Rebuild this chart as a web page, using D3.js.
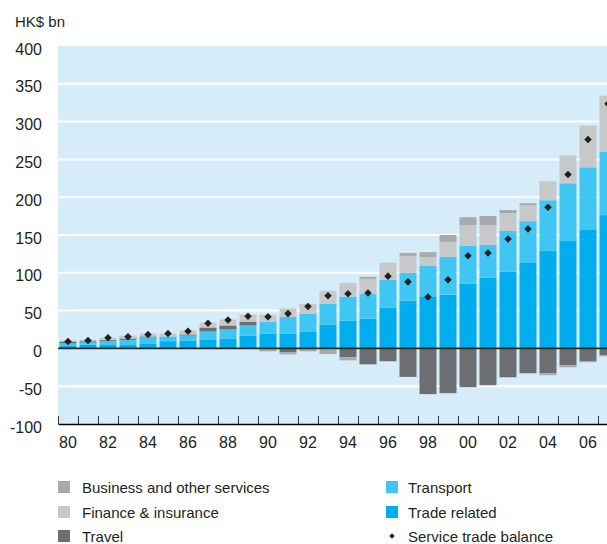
<!DOCTYPE html>
<html>
<head>
  <meta charset="UTF-8">
  <title>Hong Kong service trade</title>
  <style>
    body { margin: 0; background: #fff; }
    svg text { font-family: "Liberation Sans", Arial, sans-serif; fill: #231f20; }
  </style>
</head>
<body>
  <svg width="607" height="544"></svg>

  <script src="https://d3js.org/d3.v7.min.js"></script>
  <script>
    // Values in HK$ bn, one per year 1980-2007
    const years = d3.range(1980, 2008);
    const tradeRelated = [4, 5, 5.3, 5.3, 6.6, 9.6, 10.5, 11.8, 13.2, 17, 19.7, 19.7, 22.4, 31.6, 36.8, 39.5, 54, 63, 68, 71, 85.5, 93.4, 101.3, 113, 129, 142, 156.6, 176.3];
    const transport = [2.6, 3.9, 4.8, 6.1, 7.9, 6.2, 6.5, 10.6, 11.8, 13.3, 15.8, 22.3, 23.6, 27.6, 31.6, 32.9, 37, 37, 41, 50, 50, 43.4, 54, 55.3, 67, 76.4, 82.9, 84.2];
    const travel = [2.6, 1, 1.3, 1.8, 1.3, 0, 1.4, 5.2, 5.3, 5.2, 0, -5.3, 0, -1, -11.8, -21, -17, -37.7, -60.5, -59.2, -51.3, -48.7, -38.2, -32.9, -32.9, -22.4, -17.1, -9.2];
    const finance = [1.3, 1.6, 2.6, 3.8, 3.9, 3.9, 5.3, 6.6, 7.9, 9.2, 9.2, 10.6, 13, 17, 18.4, 19.6, 22.4, 22.4, 11.8, 19.8, 27.6, 26.3, 23.7, 21, 25, 36.8, 55.2, 73.7];
    const business = [0, 0, 0, 0, 0, 0, 0, 0, 0, 0, -3.9, -2.6, -3.9, -6.5, -4, 2.7, 0, 3.9, 6.5, 9.2, 10.5, 12, 4, 2.6, -2.6, -2.6, -1.3, -1.3];
    const balance = [9.2, 10.5, 14, 15.3, 18.4, 19.7, 22.8, 33.3, 37.7, 42.5, 42, 46, 55.3, 69.7, 72.4, 73.3, 95.6, 88, 68, 90.8, 122.4, 126.3, 144.7, 157.9, 186.8, 230, 276.3, 323.7];

    const yTicks = [-100, -50, 0, 50, 100, 150, 200, 250, 300, 350, 400];
    const labelYears = d3.range(1980, 2008, 2);

    const seriesKeys = ['trade', 'transport', 'travel', 'finance', 'business'];
    const colors = {
      trade: '#00aeef',
      transport: '#40c6f3',
      travel: '#6d6e71',
      finance: '#c7c8ca',
      business: '#a7a9ac'
    };

    const rows = years.map((yr, i) => ({
      year: yr,
      trade: tradeRelated[i],
      transport: transport[i],
      travel: travel[i],
      finance: finance[i],
      business: business[i],
      balance: balance[i]
    }));

    const W = 607;
    const plotLeft = 58, plotRight = 618, plotTop = 46, plotBottom = 424;

    const svg = d3.select('svg');

    const x = d3.scaleBand()
      .domain(years)
      .range([plotLeft, plotRight])
      .paddingInner(0.15)
      .paddingOuter(0.075);

    const xLin = d3.scaleLinear().domain([1980, 2008]).range([plotLeft, plotRight]);

    const y = d3.scaleLinear().domain([-100, 400]).range([plotBottom, plotTop]);

    // plot background
    svg.append('rect')
      .attr('x', plotLeft)
      .attr('y', y(400))
      .attr('width', W - plotLeft)
      .attr('height', y(-100) - y(400))
      .attr('fill', '#d6edf9');

    // white gridlines
    svg.append('g')
      .selectAll('line')
      .data(yTicks.filter(v => v !== 0 && v !== -100 && v !== 400))
      .join('line')
      .attr('x1', plotLeft)
      .attr('x2', W)
      .attr('y1', d => y(d))
      .attr('y2', d => y(d))
      .attr('stroke', '#fff')
      .attr('stroke-width', 2);

    // stacked bars
    const stack = d3.stack()
      .keys(seriesKeys)
      .offset(d3.stackOffsetDiverging);

    svg.append('g')
      .selectAll('g')
      .data(stack(rows))
      .join('g')
      .attr('fill', d => colors[d.key])
      .selectAll('rect')
      .data(d => d)
      .join('rect')
      .attr('x', d => x(d.data.year))
      .attr('width', x.bandwidth())
      .attr('y', d => y(Math.max(d[0], d[1])))
      .attr('height', d => Math.abs(y(d[0]) - y(d[1])));

    // zero line
    svg.append('line')
      .attr('x1', plotLeft)
      .attr('x2', W)
      .attr('y1', y(0))
      .attr('y2', y(0))
      .attr('stroke', '#2a2a2a')
      .attr('stroke-width', 1.6);

    // balance markers
    const diamond = d3.symbol().type(d3.symbolDiamond2).size(36);
    svg.append('g')
      .selectAll('path')
      .data(rows)
      .join('path')
      .attr('d', diamond)
      .attr('fill', '#231f20')
      .attr('transform', d => `translate(${x(d.year) + x.bandwidth() / 2}, ${y(d.balance)})`);

    // bottom axis: year ticks pointing up
    const xAxis = svg.append('g')
      .attr('transform', `translate(0, ${plotBottom})`)
      .call(d3.axisBottom(xLin)
        .tickValues(d3.range(1980, 2009))
        .tickSize(-8)
        .tickSizeOuter(0)
        .tickFormat(''));
    xAxis.select('.domain').attr('stroke', '#000').attr('stroke-width', 1.6);
    xAxis.selectAll('.tick line').attr('stroke', '#333');

    // year labels, every second year
    const xLabelAxis = svg.append('g')
      .attr('transform', `translate(0, ${plotBottom})`)
      .call(d3.axisBottom(x)
        .tickValues(labelYears)
        .tickSize(0)
        .tickPadding(13)
        .tickFormat(d => String(d).slice(2)));
    xLabelAxis.select('.domain').remove();
    xLabelAxis.selectAll('text')
      .attr('font-size', 16)
      .attr('font-family', null);

    // y labels (plain hyphen for negatives, as in the original)
    const yAxis = svg.append('g')
      .attr('transform', 'translate(42, 0)')
      .call(d3.axisLeft(y)
        .tickValues(yTicks)
        .tickSize(0)
        .tickPadding(0)
        .tickFormat(d => String(d)));
    yAxis.select('.domain').remove();
    yAxis.selectAll('text')
      .attr('font-size', 16)
      .attr('font-family', null)
      .attr('dy', '0.5em');

    // unit label
    svg.append('text')
      .attr('x', 15)
      .attr('y', 27)
      .attr('font-size', 15)
      .text('HK$ bn');

    // legend
    const legendItems = [
      { label: 'Business and other services', color: colors.business, col: 0, row: 0 },
      { label: 'Finance & insurance', color: colors.finance, col: 0, row: 1 },
      { label: 'Travel', color: colors.travel, col: 0, row: 2 },
      { label: 'Transport', color: colors.transport, col: 1, row: 0 },
      { label: 'Trade related', color: colors.trade, col: 1, row: 1 },
      { label: 'Service trade balance', color: null, col: 1, row: 2 }
    ];
    const colX = [58, 386];
    const rowY = [487, 512, 536];

    const legend = svg.append('g')
      .selectAll('g')
      .data(legendItems)
      .join('g')
      .attr('transform', d => `translate(${colX[d.col]}, ${rowY[d.row]})`);

    legend.filter(d => d.color)
      .append('rect')
      .attr('x', 0)
      .attr('y', -6)
      .attr('width', 12)
      .attr('height', 12)
      .attr('fill', d => d.color);

    legend.filter(d => !d.color)
      .append('path')
      .attr('d', d3.symbol().type(d3.symbolDiamond2).size(20))
      .attr('fill', '#231f20')
      .attr('transform', 'translate(6, 0)');

    legend.append('text')
      .attr('x', d => d.col === 0 ? 24 : 22)
      .attr('y', 5.5)
      .attr('font-size', 15)
      .text(d => d.label);
  </script>
</body>
</html>
